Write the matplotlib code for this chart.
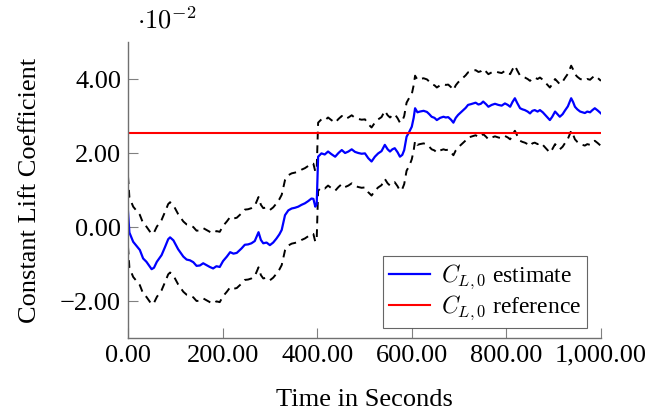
import numpy as np
import matplotlib
matplotlib.use("Agg")
import matplotlib.pyplot as plt
from matplotlib.ticker import FuncFormatter

# time (s) and C_L,0 estimate (in units of 1e-2)
time = [0, 3, 11, 25, 32, 39, 50, 55, 61, 71, 78, 85, 89, 96, 106, 117, 124, 131, 138, 145,
        152, 159, 166, 173, 180, 187, 194, 201, 209, 216, 223, 230, 240, 247, 254, 261, 268, 276, 281, 286,
        293, 300, 307, 314, 320, 325, 332, 339, 346, 353, 360, 367, 374, 381, 388, 392, 396, 399, 402, 409,
        416, 423, 430, 438, 445, 452, 459, 466, 473, 480, 487, 494, 501, 508, 515, 522, 529, 536, 543, 549,
        554, 559, 564, 570, 575, 580, 584, 589, 595, 600, 604, 607, 612, 617, 625, 632, 637, 642, 648, 653,
        660, 667, 672, 677, 683, 688, 693, 698, 704, 709, 714, 719, 725, 730, 735, 741, 746, 751, 757, 762,
        769, 776, 783, 790, 797, 803, 808, 813, 818, 823, 829, 834, 839, 845, 850, 855, 860, 866, 871, 877,
        882, 887, 892, 897, 903, 908, 913, 919, 924, 930, 937, 941, 945, 950, 956, 961, 966, 971, 977, 982,
        987, 993, 1000]
estimate = [0.42, -0.15, -0.40, -0.62, -0.85, -0.94, -1.14, -1.10, -0.94, -0.76, -0.55, -0.33, -0.28, -0.36, -0.60, -0.80, -0.88, -0.90, -0.95, -1.05,
            -1.04, -0.98, -1.03, -1.08, -1.12, -1.06, -1.08, -0.92, -0.80, -0.68, -0.72, -0.70, -0.58, -0.48, -0.47, -0.44, -0.38, -0.14, -0.35, -0.44,
            -0.42, -0.49, -0.42, -0.31, -0.20, -0.08, 0.32, 0.45, 0.50, 0.52, 0.55, 0.60, 0.64, 0.70, 0.77, 0.76, 0.55, 0.62, 1.90, 1.99,
            1.96, 2.04, 1.97, 1.90, 2.00, 2.08, 2.00, 2.04, 2.10, 2.03, 2.00, 1.98, 1.99, 1.86, 1.77, 1.90, 1.99, 2.05, 2.22, 2.10,
            2.04, 2.10, 2.13, 2.02, 1.90, 1.95, 2.08, 2.44, 2.58, 2.71, 2.95, 3.21, 3.10, 3.12, 3.14, 3.11, 3.05, 2.98, 2.95, 2.89,
            2.95, 2.98, 2.96, 2.97, 2.90, 2.82, 2.95, 3.03, 3.10, 3.16, 3.22, 3.30, 3.32, 3.34, 3.36, 3.31, 3.33, 3.39, 3.32, 3.25,
            3.30, 3.33, 3.30, 3.28, 3.34, 3.30, 3.25, 3.38, 3.48, 3.35, 3.21, 3.18, 3.16, 3.12, 3.07, 3.14, 3.16, 3.12, 3.16, 3.10,
            3.03, 2.96, 2.89, 2.98, 3.12, 3.05, 2.98, 3.05, 3.15, 3.26, 3.48, 3.38, 3.25, 3.18, 3.12, 3.10, 3.08, 3.12, 3.10, 3.16,
            3.21, 3.15, 3.07]

# half width of the dashed confidence band per time segment
band_edges = [0, 400, 600, 1000]
band_half = [0.95, 0.92, 0.88]

reference = 2.55
x_ticks = [0, 200, 400, 600, 800, 1000]
y_ticks = [-2, 0, 2, 4]

plt.rcParams['font.family'] = ['Liberation Serif', 'DejaVu Serif']
plt.rcParams['mathtext.fontset'] = 'cm'
FS = 19

t = np.array(time, dtype=float)
est = np.array(estimate)
seg = np.clip(np.searchsorted(band_edges, t, side='right') - 1, 0, len(band_half) - 1)
half = np.array(band_half)[seg]

fig = plt.figure(figsize=(6.54, 4.11), dpi=100)
ax = fig.add_axes([0.1957, 0.1776, 0.7232, 0.7202])

ax.plot(t, est + half, color='black', lw=1.4, dashes=(4, 3))
ax.plot(t, est - half, color='black', lw=1.4, dashes=(4, 3))
ax.plot(t, est, color='blue', lw=1.6, label=r'$C_{L,0}$ estimate')
ax.plot([0, 1000], [reference, reference], color='red', lw=1.5, label=r'$C_{L,0}$ reference')

ax.set_xlim(0, 1000)
ax.set_ylim(-3, 5)
ax.set_xticks(x_ticks)
ax.set_yticks(y_ticks)
ax.xaxis.set_major_formatter(FuncFormatter(lambda v, p: '{:,.2f}'.format(v)))
ax.yaxis.set_major_formatter(FuncFormatter(lambda v, p: '{:.2f}'.format(v).replace('-', '\u2212')))

for s in ['top', 'right']:
    ax.spines[s].set_visible(False)
for s in ['left', 'bottom']:
    ax.spines[s].set_color('#707070')
    ax.spines[s].set_linewidth(1.0)
ax.tick_params(direction='in', length=7, color='#808080', width=0.8, labelsize=FS, pad=5)

ax.set_xlabel('Time in Seconds', fontsize=FS, labelpad=16)
ax.set_ylabel('Constant Lift Coefficient', fontsize=FS, labelpad=14)
ax.text(0.02, 1.03, r'$\cdot 10^{-2}$', transform=ax.transAxes, fontsize=FS, ha='left', va='bottom')

leg = ax.legend(loc='lower right', bbox_to_anchor=(0.97, 0.034), fontsize=17, frameon=True,
                fancybox=False, edgecolor='#404040', handlelength=1.75, borderpad=0.25,
                labelspacing=0.1, handletextpad=0.45, borderaxespad=0)
leg.get_frame().set_linewidth(0.8)

fig.savefig('out.png', dpi=100)
